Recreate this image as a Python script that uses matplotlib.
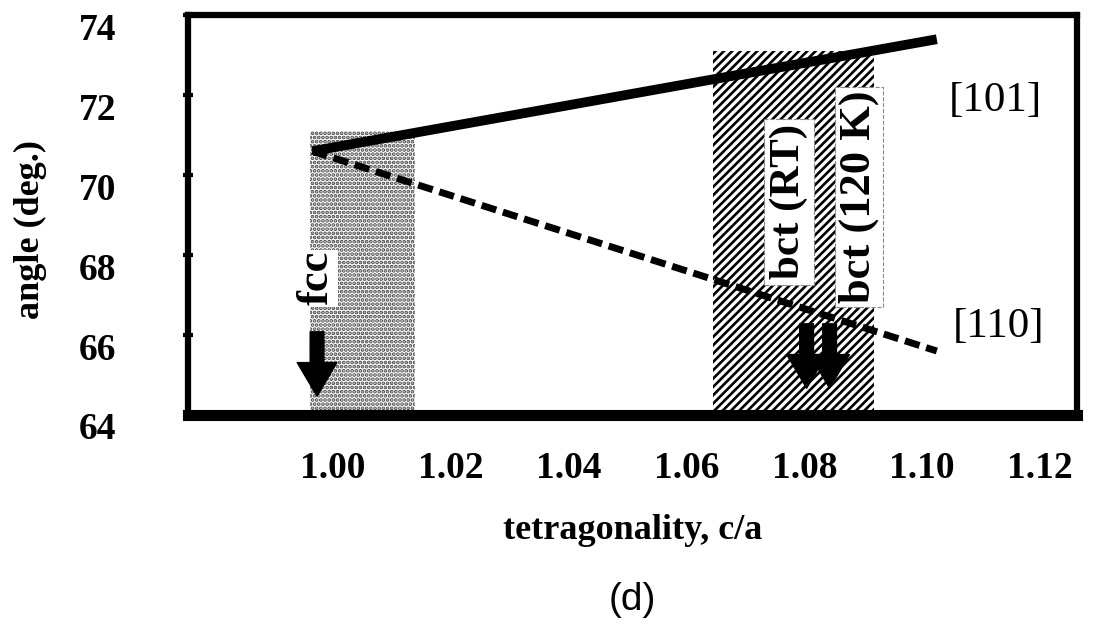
import matplotlib
matplotlib.use("Agg")
import matplotlib.pyplot as plt
import matplotlib.transforms as mtransforms
from matplotlib.ticker import MultipleLocator

# angle between directions vs tetragonality
ca_101 = [0.9965, 1.1025]
ang_101 = [70.6, 73.4]
ca_110 = [0.9965, 1.1025]
ang_110 = [70.6, 65.6]

# phase regions: (c/a start, c/a end, top angle)
fcc_band = (0.9961, 1.0139, 71.1)
bct_band = (1.0645, 1.0918, 73.1)

xticks = [1.00, 1.02, 1.04, 1.06, 1.08, 1.10, 1.12]
yticks = [64, 66, 68, 70, 72, 74]

serif = 'Liberation Serif'
plt.rcParams['hatch.linewidth'] = 1.9

fig = plt.figure(figsize=(11.09, 6.35), dpi=100)
ax = fig.add_axes([0.1695, 0.3465, 0.8015, 0.6295])

ax.fill_between([fcc_band[0], fcc_band[1]], 64, fcc_band[2],
                facecolor='white', edgecolor='#444444', hatch='....', linewidth=0, zorder=1)
ax.fill_between([bct_band[0], bct_band[1]], 64, bct_band[2],
                facecolor='white', edgecolor='black', hatch='////', linewidth=0, zorder=1)

ax.plot(ca_101, ang_101, color='black', linewidth=7, solid_capstyle='butt', zorder=3)
ax.plot(ca_110, ang_110, color='black', linewidth=5, linestyle=(0, (2.2, 1.0)),
        zorder=3)

# phase labels
ax.text(0.9973, 67.42, 'fcc', rotation=90, ha='center', va='center',
        family=serif, weight='bold', fontsize=32, zorder=4,
        bbox=dict(facecolor='white', edgecolor='none', pad=1))
ax.text(1.0774, 69.33, 'bct (RT)', rotation=90, ha='center', va='center',
        family=serif, weight='bold', fontsize=31, zorder=4,
        bbox=dict(facecolor='white', edgecolor='#888888', linestyle='--',
                  linewidth=0.8, pad=4))
ax.text(1.0893, 69.45, 'bct (120 K)', rotation=90, ha='center', va='center',
        family=serif, weight='bold', fontsize=32, zorder=4,
        bbox=dict(facecolor='white', edgecolor='#888888', linestyle='--',
                  linewidth=0.8, pad=3))

ax.text(1.1124, 71.86, '[101]', ha='center', va='center', family=serif, fontsize=31)
ax.text(1.1129, 66.2, '[110]', ha='center', va='center', family=serif, fontsize=31)

arrow = dict(arrowstyle='simple,head_width=1.3,head_length=1.1,tail_width=0.45',
             color='black', mutation_scale=22)
ax.annotate('', xy=(0.9973, 64.4), xytext=(0.9973, 66.15), arrowprops=arrow, zorder=5)
ax.annotate('', xy=(1.0804, 64.6), xytext=(1.0804, 66.35), arrowprops=arrow, zorder=5)
ax.annotate('', xy=(1.0843, 64.6), xytext=(1.0843, 66.35), arrowprops=arrow, zorder=5)

ax.set_xlim(0.97539, 1.12627)
ax.set_ylim(64, 74)
ax.set_xticks(xticks)
ax.set_xticklabels([f'{v:.2f}' for v in xticks])
ax.set_yticks(yticks)
ax.yaxis.set_minor_locator(MultipleLocator(1))

ax.tick_params(axis='x', length=0, pad=26)
ax.tick_params(axis='y', which='major', direction='inout', length=7, width=3, pad=48)
ax.tick_params(axis='y', which='minor', direction='inout', length=5, width=3)

for lab in ax.get_xticklabels() + ax.get_yticklabels():
    lab.set_family(serif)
    lab.set_weight('bold')
    lab.set_fontsize(27)

# y tick labels sit a little below their ticks
shift = mtransforms.ScaledTranslation(0, -0.11, fig.dpi_scale_trans)
for lab in ax.get_yticklabels():
    lab.set_transform(lab.get_transform() + shift)

for side in ['left', 'top', 'right']:
    ax.spines[side].set_linewidth(4.5)
ax.spines['bottom'].set_linewidth(8)

ax.set_xlabel('tetragonality, c/a', family=serif, weight='bold', fontsize=26, labelpad=20)
ax.set_ylabel('angle (deg.)', family=serif, weight='bold', fontsize=26)
ax.yaxis.set_label_coords(-0.159, 0.465)

fig.text(0.57, 0.055, '(d)', ha='center', va='center', family='Liberation Sans', fontsize=28)

fig.savefig('out.png', dpi=100)
